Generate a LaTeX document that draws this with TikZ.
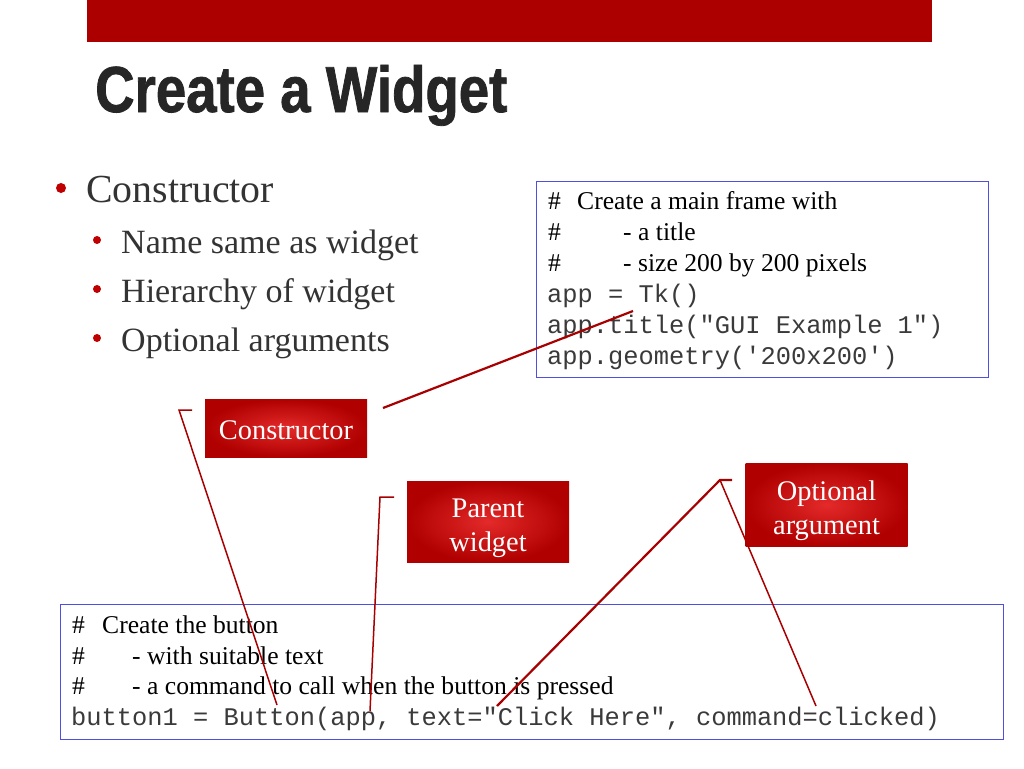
\documentclass[tikz,border=0pt]{standalone}
\usepackage{fontspec}
\setmainfont{Liberation Serif}
\setmonofont{Liberation Mono}
\newfontfamily\titlefont{Liberation Sans}[FakeStretch=0.84,FakeBold=1.2]
\definecolor{barred}{HTML}{AC0000}
\definecolor{titlegray}{HTML}{262626}
\definecolor{bodygray}{HTML}{333333}
\definecolor{bulletred}{HTML}{C00000}
\definecolor{codeblue}{HTML}{5050DD}
\definecolor{codegray}{HTML}{3A3A3A}
\definecolor{linered}{HTML}{A80000}
\definecolor{calloutlight}{HTML}{E42A2A}
\definecolor{calloutdark}{HTML}{B00000}
\tikzset{
  callout/.style={shade, inner color=calloutlight, outer color=calloutdark,
    minimum width=162pt, inner sep=0pt},
  callouttext/.style={text=white, align=center, inner sep=0pt,
    font=\fontsize{28.4}{34}\selectfont},
  codebox/.style={draw=codeblue, line width=1pt},
  codeline/.style={anchor=base west, inner sep=0pt, text=black,
    font=\fontsize{25.6}{31}\selectfont},
  monoline/.style={anchor=base west, inner sep=0pt, text=codegray,
    font=\ttfamily\fontsize{25.4}{31}\selectfont},
  bullettext/.style={anchor=base west, inner sep=0pt, text=bodygray},
  pointer/.style={draw=linered, line width=1.5pt},
}
\begin{document}
\begin{tikzpicture}[x=1pt, y=-1pt]
  \useasboundingbox (0,0) rectangle (1024,768);
  % header
  \fill[barred] (87,0) rectangle (932,42);
  \node[anchor=base west, inner sep=0pt, text=titlegray,
    font=\titlefont\bfseries\fontsize{65}{70}\selectfont] (title) at (95,112) {Create a Widget};
  % bullets
  \fill[bulletred] (61,188) circle (5);
  \node[bullettext, font=\fontsize{39.8}{46}\selectfont] (ctoritem) at (86,202) {Constructor};
  \foreach \y/\txt/\nm in {253/Name same as widget/nameitem, 302/Hierarchy of widget/hieritem, 351/Optional arguments/optitem}{
    \fill[bulletred] (97,\y-13) circle (4);
    \node[bullettext, font=\fontsize{34}{40}\selectfont] (\nm) at (121,\y) {\txt};
  }
  % main frame code
  \draw[codebox] (536,181) rectangle (988,377);
  \node[codeline] (fhash1) at (548,209) {\#};
  \node[codeline] (fcom1) at (577,209) {Create a main frame with};
  \node[codeline] (fhash2) at (548,240) {\#};
  \node[codeline] (fcom2) at (623,240) {- a title};
  \node[codeline] (fhash3) at (548,271) {\#};
  \node[codeline] (fcom3) at (623,271) {- size 200 by 200 pixels};
  \node[monoline] (fcode1) at (547,302) {app = Tk()};
  \node[monoline] (fcode2) at (547,333) {app.title("GUI Example 1")};
  \node[monoline] (fcode3) at (547,364) {app.geometry('200x200')};
  % button code
  \draw[codebox] (60,604) rectangle (1003,739);
  \node[codeline] (bhash1) at (72,633) {\#};
  \node[codeline] (bcom1) at (102,633) {Create the button};
  \node[codeline] (bhash2) at (72,664) {\#};
  \node[codeline] (bcom2) at (132,664) {- with suitable text};
  \node[codeline] (bhash3) at (72,694) {\#};
  \node[codeline] (bcom3) at (132,694) {- a command to call when the button is pressed};
  \node[monoline] (bcode) at (71,725) {button1 = Button(app, text="Click Here", command=clicked)};
  % callouts
  \node[callout, minimum height=58pt] (ctorbox) at (286,428) {};
  \node[callouttext] (ctorlabel) at ([yshift=-2.5pt]ctorbox.center) {Constructor};
  \node[callout, minimum height=81pt] (parentbox) at (488,521.5) {};
  \node[callouttext] (parentlabel) at ([yshift=-6.5pt]parentbox.center) {Parent\\widget};
  \node[callout, minimum height=83pt] (optbox) at (826.5,504.5) {};
  \node[callouttext] (optlabel) at ([yshift=-6pt]optbox.center) {Optional\\argument};
  % pointer ends
  \coordinate (ctortail) at (383,408);
  \coordinate (tkmark) at (633,311);
  \coordinate (ctortick) at (192,410);
  \coordinate (ctorfoot) at (179,410);
  \coordinate (buttonmark) at (277,705);
  \coordinate (parenttick) at (394,497);
  \coordinate (parentfoot) at (380,497);
  \coordinate (appmark) at (370,711);
  \coordinate (opttick) at (732,480);
  \coordinate (optfoot) at (720,480);
  \coordinate (textmark) at (497,706);
  \coordinate (cmdmark) at (816,706);
  % pointers
  \draw[pointer, line width=2.2pt] (ctortail) -- (tkmark);
  \draw[pointer] (ctortick) -- (ctorfoot) -- (buttonmark);
  \draw[pointer] (parenttick) -- (parentfoot) -- (appmark);
  \draw[pointer, line width=2.2pt] (opttick) -- (optfoot) -- (textmark);
  \draw[pointer] (optfoot) -- (cmdmark);
\end{tikzpicture}
\end{document}
